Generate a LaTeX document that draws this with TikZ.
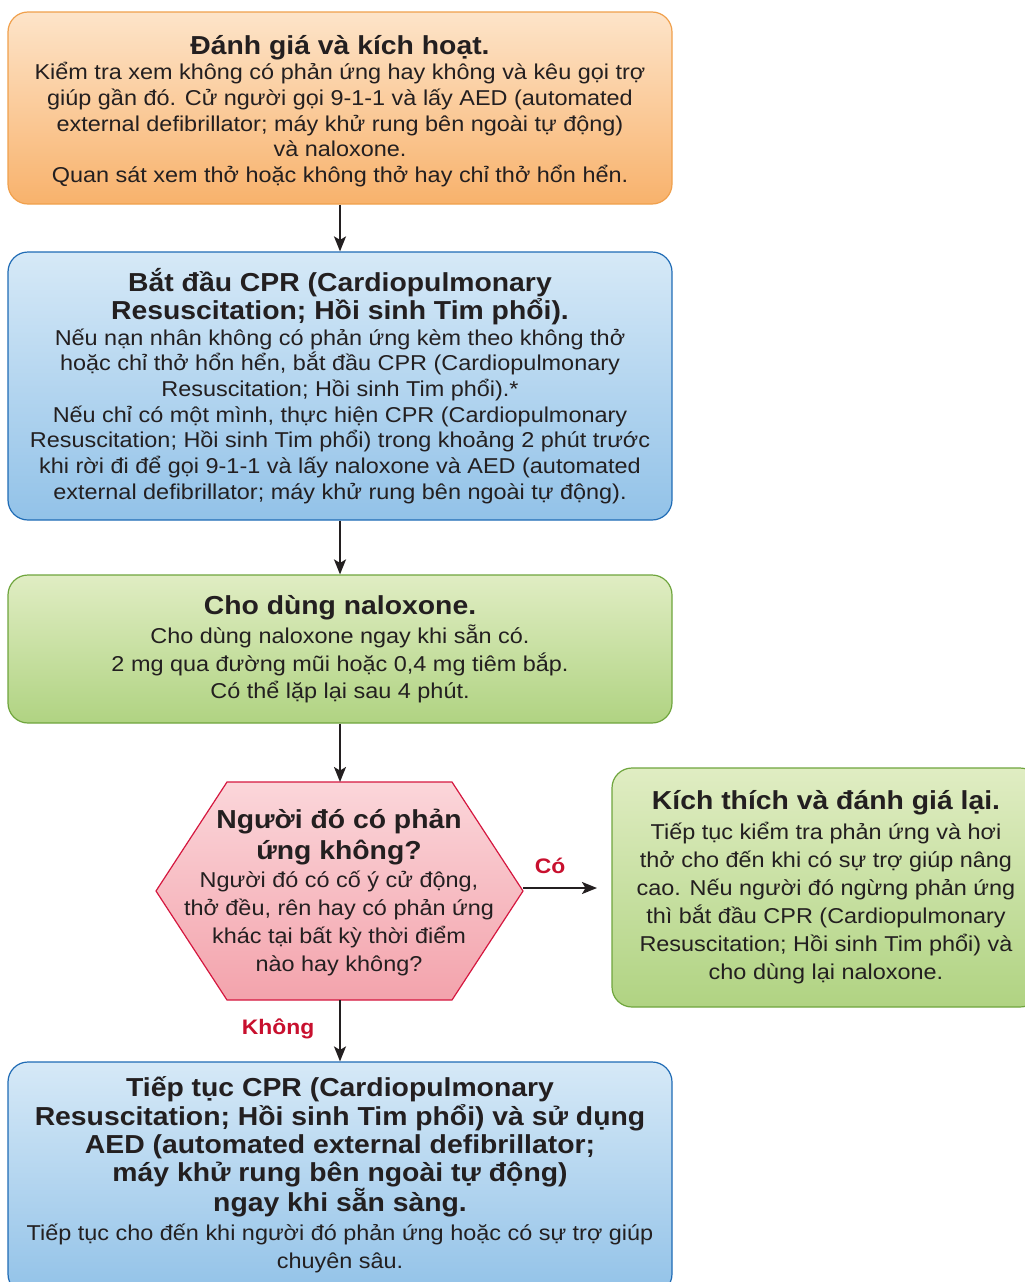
\documentclass[tikz,border=0pt]{standalone}
\usepackage{fontspec}
\setmainfont{Liberation Sans}[FakeStretch=1.09]
\usetikzlibrary{arrows.meta}

\definecolor{ink}{HTML}{231F20}
\definecolor{orangetop}{HTML}{FDE4C9}
\definecolor{orangebot}{HTML}{F8B26C}
\definecolor{orangeline}{HTML}{F0A04C}
\definecolor{bluetop}{HTML}{D6E9F7}
\definecolor{bluebot}{HTML}{92C2E8}
\definecolor{blueline}{HTML}{1F6BB5}
\definecolor{greentop}{HTML}{E0EDC3}
\definecolor{greenbot}{HTML}{B0D382}
\definecolor{greenline}{HTML}{6FA53D}
\definecolor{redtop}{HTML}{FBD6DA}
\definecolor{redbot}{HTML}{F3A3AC}
\definecolor{redline}{HTML}{D5173F}
\definecolor{labelred}{HTML}{C8102E}

\newcommand{\boxhead}[1]{\fontsize{26}{#1}\selectfont\bfseries}
\newcommand{\boxtext}[1]{\fontsize{21.5}{#1}\selectfont\mdseries}

\tikzset{
  box/.style={rounded corners=20pt, line width=1.2pt, inner sep=0pt, text=ink},
  orangebox/.style={box, draw=orangeline, top color=orangetop, bottom color=orangebot},
  bluebox/.style={box, draw=blueline, top color=bluetop, bottom color=bluebot},
  greenbox/.style={box, draw=greenline, top color=greentop, bottom color=greenbot},
  flow/.style={draw=ink, line width=2pt, -{Stealth[length=15pt,width=12pt,inset=3.5pt]}},
  answer/.style={text=labelred, font=\fontsize{21}{21}\selectfont\bfseries},
}

\begin{document}
\begin{tikzpicture}[x=1pt, y=-1pt]
\useasboundingbox (0,0) rectangle (1025,1282);
\clip (0,0) rectangle (1025,1282);

% assess and activate
\node[orangebox, minimum width=664pt, minimum height=192pt] (assess) at (340,108) {};
\node[inner sep=0pt, text=ink] (assesstext) at (340,111)
 {\begin{minipage}{650pt}\centering
  \boxhead{28}Đánh giá và kích hoạt.\par
  \boxtext{25.7}Kiểm tra xem không có phản ứng hay không và kêu gọi trợ\\
  giúp gần đó. Cử người gọi 9-1-1 và lấy AED (automated\\
  external defibrillator; máy khử rung bên ngoài tự động)\\
  và naloxone.\\
  Quan sát xem thở hoặc không thở hay chỉ thở hổn hển.\par
 \end{minipage}};

% start CPR
\node[bluebox, minimum width=664pt, minimum height=268pt] (cpr) at (340,386)
 {\begin{minipage}{650pt}\centering
  \boxhead{28}Bắt đầu CPR (Cardiopulmonary\\
  Resuscitation; Hồi sinh Tim phổi).\par
  \boxtext{25.7}Nếu nạn nhân không có phản ứng kèm theo không thở\\
  hoặc chỉ thở hổn hển, bắt đầu CPR (Cardiopulmonary\\
  Resuscitation; Hồi sinh Tim phổi).*\\
  Nếu chỉ có một mình, thực hiện CPR (Cardiopulmonary\\
  Resuscitation; Hồi sinh Tim phổi) trong khoảng 2 phút trước\\
  khi rời đi để gọi 9-1-1 và lấy naloxone và AED (automated\\
  external defibrillator; máy khử rung bên ngoài tự động).\par
 \end{minipage}};

% give naloxone
\node[greenbox, minimum width=664pt, minimum height=148pt] (nalox) at (340,649)
 {\begin{minipage}{650pt}\centering
  \boxhead{28}Cho dùng naloxone.\par
  \boxtext{27.5}\vspace{2pt}Cho dùng naloxone ngay khi sẵn có.\\
  2 mg qua đường mũi hoặc 0,4 mg tiêm bắp.\\
  Có thể lặp lại sau 4 phút.\par
 \end{minipage}};

% decision hexagon
\coordinate (hexT) at (340,782);
\coordinate (hexB) at (340,1000);
\coordinate (hexR) at (523,888);
\path[draw=redline, line width=1.2pt, top color=redtop, bottom color=redbot]
  (156,891) -- (227,782) -- (452,782) -- (523,891) -- (452,1000) -- (227,1000) -- cycle;
\node[inner sep=0pt, text=ink] (ask) at (339,893)
 {\begin{minipage}{360pt}\centering
  \boxhead{31}Người đó có phản\\
  ứng không?\par
  \boxtext{28}Người đó có cố ý cử động,\\
  thở đều, rên hay có phản ứng\\
  khác tại bất kỳ thời điểm\\
  nào hay không?\par
 \end{minipage}};

% stimulate and reassess
\node[greenbox, minimum width=428pt, minimum height=239pt] (stim) at (826,887.5)
 {\begin{minipage}{400pt}\centering
  \boxhead{31}Kích thích và đánh giá lại.\par
  \boxtext{28}\vspace{2pt}Tiếp tục kiểm tra phản ứng và hơi\\
  thở cho đến khi có sự trợ giúp nâng\\
  cao. Nếu người đó ngừng phản ứng\\
  thì bắt đầu CPR (Cardiopulmonary\\
  Resuscitation; Hồi sinh Tim phổi) và\\
  cho dùng lại naloxone.\par
 \end{minipage}};

% continue CPR
\node[bluebox, minimum width=664pt, minimum height=232pt] (cont) at (340,1178) {};
\node[inner sep=0pt, text=ink] (conttext) at (340,1175)
 {\begin{minipage}{650pt}\centering
  \boxhead{28.3}Tiếp tục CPR (Cardiopulmonary\\
  Resuscitation; Hồi sinh Tim phổi) và sử dụng\\
  AED (automated external defibrillator;\\
  máy khử rung bên ngoài tự động)\\
  ngay khi sẵn sàng.\par
  \boxtext{28.5}Tiếp tục cho đến khi người đó phản ứng hoặc có sự trợ giúp\\
  chuyên sâu.\par
 \end{minipage}};

% connectors
\coordinate (yesEnd) at (597,888);
\draw[flow] (assess.south) -- (cpr.north);
\draw[flow] (cpr.south) -- (nalox.north);
\draw[flow] (nalox.south) -- (hexT);
\draw[flow] (hexB) -- (cont.north);
\draw[flow] (hexR) -- (yesEnd);

\node[answer] (yes) at (550,866) {Có};
\node[answer] (no) at (278,1029) {Không};
\end{tikzpicture}
\end{document}
